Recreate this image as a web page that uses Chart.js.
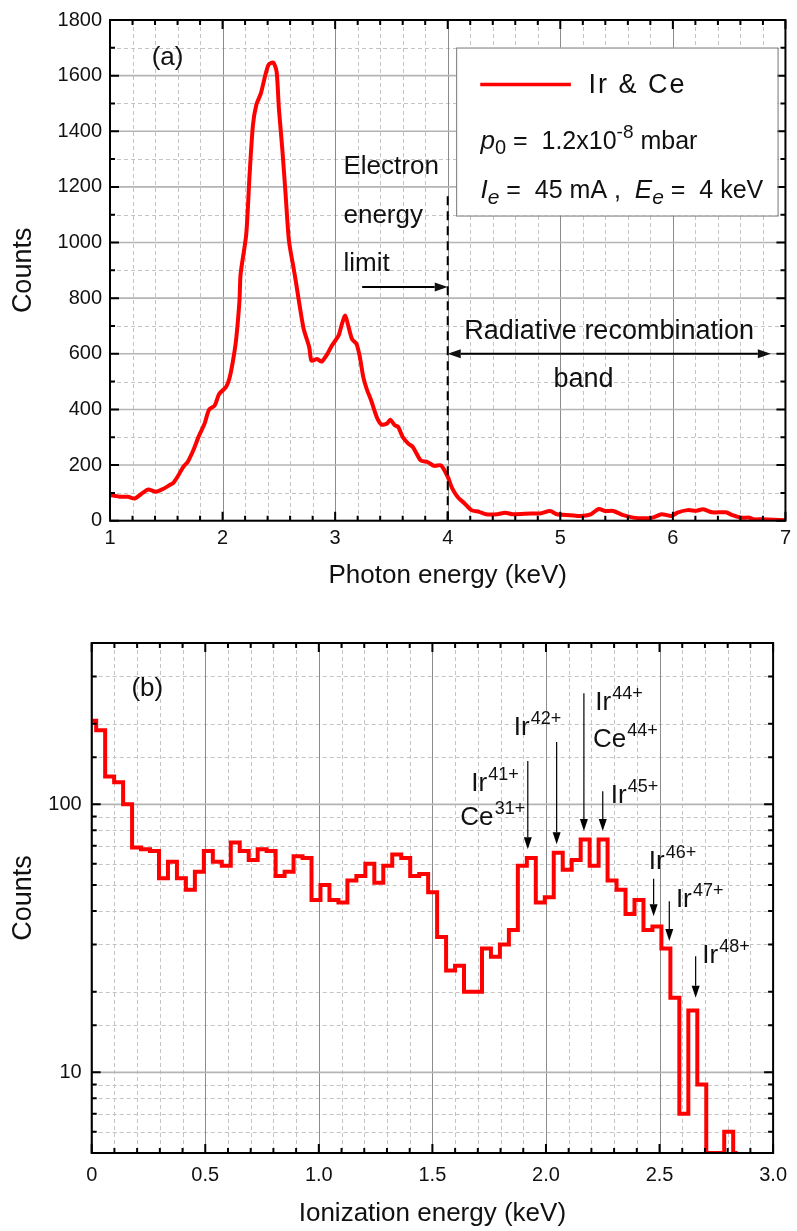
<!DOCTYPE html>
<html>
<head>
<meta charset="utf-8">
<script src="https://cdn.jsdelivr.net/npm/chart.js@4.4.1/dist/chart.umd.min.js"></script>
<style>
  html, body { margin: 0; padding: 0; background: #fff; }
  #wrap { position: relative; width: 797px; height: 1231px; }
  canvas { position: absolute; left: 0; }
  #chartA { top: 0; }
  #chartB { top: 595px; }
</style>
</head>
<body>
<div id="wrap">
  <canvas id="chartA" width="797" height="595"></canvas>
  <canvas id="chartB" width="797" height="636"></canvas>
</div>
<script>
// (a) X-ray spectrum, Ir & Ce
const photonEnergy = [1.00, 1.04, 1.09, 1.16, 1.22, 1.29, 1.34, 1.41, 1.48, 1.53, 1.56, 1.60, 1.65, 1.69, 1.74,
  1.79, 1.84, 1.88, 1.93, 1.97, 2.03, 2.06, 2.09, 2.12, 2.15, 2.16, 2.21, 2.24, 2.27, 2.30, 2.34, 2.38, 2.41,
  2.45, 2.48, 2.50, 2.53, 2.56, 2.59, 2.63, 2.65, 2.68, 2.72, 2.77, 2.79, 2.84, 2.88, 2.93, 2.97, 3.03, 3.06,
  3.09, 3.12, 3.15, 3.19, 3.22, 3.25, 3.28, 3.32, 3.37, 3.41, 3.46, 3.49, 3.53, 3.56, 3.60, 3.65, 3.69, 3.76,
  3.82, 3.88, 3.94, 4.00, 4.04, 4.09, 4.15, 4.21, 4.28, 4.34, 4.44, 4.51, 4.58, 4.74, 4.82, 4.91, 4.97, 5.09,
  5.18, 5.27, 5.34, 5.40, 5.47, 5.56, 5.65, 5.74, 5.82, 5.90, 5.99, 6.04, 6.13, 6.21, 6.27, 6.35, 6.47, 6.53,
  6.60, 6.68, 6.72, 6.79, 7.00];
const photonCounts = [92, 90, 86, 86, 80, 100, 112, 104, 116, 128, 135, 158, 193, 211, 253,
  305, 349, 399, 414, 456, 480, 510, 569, 650, 790, 886, 1029, 1244, 1423, 1495, 1536, 1602, 1640,
  1647, 1614, 1483, 1339, 1172, 1005, 910, 862, 785, 690, 623, 575, 581, 572, 599, 629, 665, 707,
  737, 695, 653, 635, 587, 516, 474, 432, 372, 346, 349, 363, 343, 337, 301, 277, 265, 217,
  211, 197, 199, 158, 116, 84, 62, 38, 32, 23, 23, 29, 23, 26, 26, 35, 23, 20,
  17, 23, 42, 35, 35, 20, 11, 9, 11, 23, 17, 29, 38, 36, 41, 30, 30, 20,
  11, 11, 5, 5, 2];

// (b) ionization energy histogram, bins start at 0 keV
const binWidth = 0.0395;
const ionCounts = [205, 189, 127, 121, 100, 69, 68, 67, 53, 61, 53, 48, 56, 67, 61, 59, 72, 67, 62, 68,
  67, 54, 56, 64, 63, 44, 50, 44, 43, 52, 54, 60, 51, 59, 65, 63, 54, 55, 47, 32,
  24, 25, 20, 20, 29, 27, 30, 34, 59, 63, 43, 45, 66, 57, 62, 74, 59, 74, 52, 48,
  39, 44, 34, 35, 29, 19, 7, 17, 9, 5, 5, 6, 5];

// ion labels: [name, charge, label x, label y, arrow x, arrow top, arrow tip]
const ionLabels = [
  ['Ir', '41+', 1.671, 112, 1.920, 145, 68],
  ['Ce', '31+', 1.623, 84, null],
  ['Ir', '42+', 1.858, 181, 2.047, 171, 71],
  ['Ir', '44+', 2.217, 224, 2.167, 260, 79.5],
  ['Ce', '44+', 2.207, 164, null],
  ['Ir', '45+', 2.285, 101.5, 2.250, 112, 79.5],
  ['Ir', '46+', 2.453, 57.2, 2.474, 52.8, 38.2],
  ['Ir', '47+', 2.572, 41.5, 2.543, 43.5, 30.9],
  ['Ir', '48+', 2.688, 25.5, 2.659, 27.1, 19.0]
];

const FAMILY = '"Liberation Sans", Arial, sans-serif';
const INK = '#111';

function near(v, step) {
  return Math.abs(v / step - Math.round(v / step)) < 1e-6;
}

// grid, frame and inward ticks on all four sides
const frameGrid = {
  id: 'frameGrid',
  beforeDatasetsDraw(chart) {
    const {ctx, chartArea: a, scales: {x, y}} = chart;
    const o = chart.options.plugins.frameGrid;
    ctx.save();
    ctx.lineWidth = 1;
    ctx.strokeStyle = '#c4c4c4';
    ctx.setLineDash([4, 3]);
    x.ticks.forEach(t => {
      if (near(t.value, o.xMajor)) return;
      const px = Math.round(x.getPixelForValue(t.value)) + 0.5;
      ctx.beginPath(); ctx.moveTo(px, a.top); ctx.lineTo(px, a.bottom); ctx.stroke();
    });
    y.ticks.forEach(t => {
      if (isMajorY(t.value, o)) return;
      const py = Math.round(y.getPixelForValue(t.value)) + 0.5;
      ctx.beginPath(); ctx.moveTo(a.left, py); ctx.lineTo(a.right, py); ctx.stroke();
    });
    ctx.setLineDash([]);
    ctx.strokeStyle = '#8c8c8c';
    x.ticks.forEach(t => {
      if (!near(t.value, o.xMajor)) return;
      const px = Math.round(x.getPixelForValue(t.value)) + 0.5;
      ctx.beginPath(); ctx.moveTo(px, a.top); ctx.lineTo(px, a.bottom); ctx.stroke();
    });
    ctx.strokeStyle = '#b4b4b4';
    ctx.lineWidth = 1.6;
    y.ticks.forEach(t => {
      if (!isMajorY(t.value, o)) return;
      const py = y.getPixelForValue(t.value);
      ctx.beginPath(); ctx.moveTo(a.left, py); ctx.lineTo(a.right, py); ctx.stroke();
    });
    ctx.restore();
  },
  afterDatasetsDraw(chart) {
    const {ctx, chartArea: a, scales: {x, y}} = chart;
    const o = chart.options.plugins.frameGrid;
    ctx.save();
    ctx.strokeStyle = '#000';
    ctx.lineWidth = 2;
    x.ticks.forEach(t => {
      const px = x.getPixelForValue(t.value);
      const len = near(t.value, o.xMajor) ? 9 : 5;
      ctx.beginPath();
      ctx.moveTo(px, a.bottom); ctx.lineTo(px, a.bottom - len);
      ctx.moveTo(px, a.top); ctx.lineTo(px, a.top + len);
      ctx.stroke();
    });
    y.ticks.forEach(t => {
      const py = y.getPixelForValue(t.value);
      const len = isMajorY(t.value, o) ? 9 : 5;
      ctx.beginPath();
      ctx.moveTo(a.left, py); ctx.lineTo(a.left + len, py);
      ctx.moveTo(a.right, py); ctx.lineTo(a.right - len, py);
      ctx.stroke();
    });
    ctx.strokeRect(a.left, a.top, a.right - a.left, a.bottom - a.top);
    ctx.restore();
  }
};

function isMajorY(v, o) {
  if (o.yLog) return near(Math.log10(v), 1);
  return near(v, o.yMajor);
}

function arrow(ctx, x1, y1, x2, y2, head, half) {
  const ang = Math.atan2(y2 - y1, x2 - x1);
  const c = Math.cos(ang), s = Math.sin(ang);
  ctx.beginPath();
  ctx.moveTo(x1, y1);
  ctx.lineTo(x2 - head * c, y2 - head * s);
  ctx.stroke();
  ctx.beginPath();
  ctx.moveTo(x2, y2);
  ctx.lineTo(x2 - head * c + half * s, y2 - head * s - half * c);
  ctx.lineTo(x2 - head * c - half * s, y2 - head * s + half * c);
  ctx.closePath();
  ctx.fill();
}

function rich(ctx, x, y, parts) {
  let cx = x;
  parts.forEach(p => {
    ctx.font = (p.it ? 'italic ' : '') + p.size + 'px ' + FAMILY;
    ctx.fillText(p.t, cx, y + (p.dy || 0));
    cx += ctx.measureText(p.t).width;
  });
}

const notesA = {
  id: 'notesA',
  afterDatasetsDraw(chart) {
    const {ctx, scales: {x, y}} = chart;
    const X = v => x.getPixelForValue(v), Y = v => y.getPixelForValue(v);
    ctx.save();
    ctx.fillStyle = INK;
    ctx.strokeStyle = '#000';
    ctx.textBaseline = 'alphabetic';
    ctx.font = '26px ' + FAMILY;
    ctx.fillText('(a)', X(1.37), Y(1639));

    ctx.fillText('Electron', X(3.074), Y(1245));
    ctx.fillText('energy', X(3.074), Y(1070));
    ctx.fillText('limit', X(3.074), Y(897));
    ctx.lineWidth = 2;
    arrow(ctx, X(3.24), Y(840), X(4.0), Y(840), 13, 4.5);

    ctx.setLineDash([9, 6]);
    ctx.beginPath(); ctx.moveTo(X(4.0), Y(1166)); ctx.lineTo(X(4.0), Y(0)); ctx.stroke();
    ctx.setLineDash([]);

    ctx.textAlign = 'center';
    ctx.font = '27px ' + FAMILY;
    ctx.fillText('Radiative recombination', X(5.434), Y(653));
    ctx.fillText('band', X(5.206), Y(482));
    arrow(ctx, X(5.0), Y(600), X(6.87), Y(600), 13, 4.5);
    arrow(ctx, X(5.0), Y(600), X(4.0), Y(600), 13, 4.5);

    // legend box
    const bx = X(4.075), by = Y(1701), bw = X(6.93) - bx, bh = Y(1097) - by;
    ctx.fillStyle = '#fff';
    ctx.fillRect(bx, by, bw, bh);
    ctx.lineWidth = 1;
    ctx.strokeStyle = '#777';
    ctx.strokeRect(bx + 0.5, by + 0.5, bw, bh);
    ctx.strokeStyle = '#ff0000';
    ctx.lineWidth = 3.5;
    ctx.beginPath(); ctx.moveTo(X(4.289), Y(1568)); ctx.lineTo(X(5.094), Y(1568)); ctx.stroke();
    ctx.fillStyle = INK;
    ctx.textAlign = 'left';
    ctx.font = '27px ' + FAMILY;
    ctx.letterSpacing = '2px';
    ctx.fillText('Ir & Ce', X(5.25), Y(1536));
    ctx.letterSpacing = '0px';
    rich(ctx, X(4.291), Y(1338), [
      {t: 'p', size: 26, it: true}, {t: '0', size: 20, dy: 5},
      {t: ' =  1.2x10', size: 25}, {t: '-8', size: 19, dy: -11}, {t: ' mbar', size: 25}
    ]);
    rich(ctx, X(4.291), Y(1159), [
      {t: 'I', size: 26, it: true}, {t: 'e', size: 21, it: true, dy: 6},
      {t: ' =  45 mA ,  ', size: 25},
      {t: 'E', size: 26, it: true}, {t: 'e', size: 21, it: true, dy: 6},
      {t: ' =  4 keV', size: 25}
    ]);
    ctx.restore();
  }
};

const notesB = {
  id: 'notesB',
  afterDatasetsDraw(chart) {
    const {ctx, scales: {x, y}} = chart;
    const X = v => x.getPixelForValue(v), Y = v => y.getPixelForValue(v);
    ctx.save();
    ctx.fillStyle = INK;
    ctx.strokeStyle = '#000';
    ctx.textBaseline = 'alphabetic';
    ctx.font = '26px ' + FAMILY;
    ctx.fillText('(b)', X(0.175), Y(254));
    ctx.lineWidth = 1.2;
    ionLabels.forEach(([name, q, lx, ly, ax, atop, atip]) => {
      rich(ctx, X(lx), Y(ly), [{t: name, size: 26}, {t: ' ', size: 4}, {t: q, size: 18, dy: -11}]);
      if (ax !== null) {
        ctx.fillStyle = '#000';
        arrow(ctx, X(ax), Y(atop), X(ax), Y(atip), 12, 4);
        ctx.fillStyle = INK;
      }
    });
    ctx.restore();
  }
};

const tickFont = {family: FAMILY, size: 20};
const titleFont = {family: FAMILY, size: 26};

new Chart(document.getElementById('chartA'), {
  type: 'line',
  data: {
    datasets: [{
      label: 'Ir & Ce',
      data: photonEnergy.map((e, i) => ({x: e, y: photonCounts[i]})),
      borderColor: '#ff0000',
      borderWidth: 4,
      pointRadius: 0,
      tension: 0.25,
      borderJoinStyle: 'round',
      fill: false
    }]
  },
  options: {
    responsive: false,
    animation: false,
    layout: {padding: {top: 18, right: 7, left: 0, bottom: 0}},
    plugins: {
      legend: {display: false},
      tooltip: {enabled: false},
      frameGrid: {xMajor: 1, yMajor: 200}
    },
    scales: {
      x: {
        type: 'linear', min: 1, max: 7,
        grid: {display: false, drawTicks: false},
        border: {display: false},
        ticks: {
          stepSize: 0.2, autoSkip: false, maxRotation: 0, padding: 6,
          color: INK, font: tickFont,
          callback: v => near(v, 1) ? String(Math.round(v)) : ''
        },
        title: {display: true, text: 'Photon energy (keV)', color: INK, font: titleFont, padding: {top: 0, bottom: 4}},
        afterFit: s => { s.height = 74.3; }
      },
      y: {
        type: 'linear', min: 0, max: 1800,
        grid: {display: false, drawTicks: false},
        border: {display: false},
        ticks: {
          stepSize: 100, autoSkip: false, padding: 8,
          color: INK, font: tickFont,
          callback: v => near(v, 200) ? String(Math.round(v)) : ''
        },
        title: {display: true, text: 'Counts', color: INK, font: {family: FAMILY, size: 27}, padding: {top: 7, bottom: 0}},
        afterFit: s => { s.width = 110; }
      }
    }
  },
  plugins: [frameGrid, notesA]
});

new Chart(document.getElementById('chartB'), {
  type: 'line',
  data: {
    datasets: [{
      label: 'Ionization energy',
      data: ionCounts.map((c, i) => ({x: i * binWidth, y: c})),
      borderColor: '#ff0000',
      borderWidth: 4,
      pointRadius: 0,
      stepped: 'middle',
      fill: false
    }]
  },
  options: {
    responsive: false,
    animation: false,
    layout: {padding: {top: 48, right: 15.3, left: 0, bottom: 0}},
    plugins: {
      legend: {display: false},
      tooltip: {enabled: false},
      frameGrid: {xMajor: 0.5, yLog: true}
    },
    scales: {
      x: {
        type: 'linear', min: 0, max: 3,
        grid: {display: false, drawTicks: false},
        border: {display: false},
        ticks: {
          stepSize: 0.1, autoSkip: false, maxRotation: 0, padding: 10,
          color: INK, font: tickFont,
          callback: v => near(v, 0.5) ? (Math.abs(v) < 1e-6 ? '0' : v.toFixed(1)) : ''
        },
        title: {display: true, text: 'Ionization energy (keV)', color: INK, font: titleFont, padding: {top: 0, bottom: 2}},
        afterFit: s => { s.height = 78; }
      },
      y: {
        type: 'logarithmic', min: 5, max: 400,
        grid: {display: false, drawTicks: false},
        border: {display: false},
        ticks: {
          autoSkip: false, padding: 10,
          color: INK, font: tickFont,
          callback: v => (v === 10 || v === 100) ? String(v) : ''
        },
        title: {display: true, text: 'Counts', color: INK, font: {family: FAMILY, size: 27}, padding: {top: 7, bottom: 0}},
        afterFit: s => { s.width = 91.7; }
      }
    }
  },
  plugins: [frameGrid, notesB]
});
</script>
</body>
</html>
